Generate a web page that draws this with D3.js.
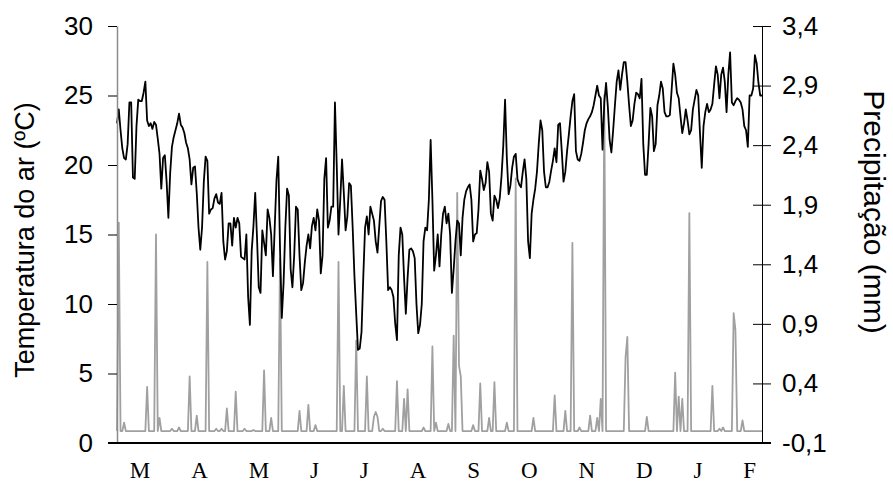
<!DOCTYPE html>
<html><head><meta charset="utf-8">
<script src="https://cdn.jsdelivr.net/npm/d3@7"></script>
<style>body{margin:0;background:#fff;} svg{display:block;}</style>
</head><body><svg id="c" width="893" height="489"></svg>
<script>
// ---- data ----
const months = ["M","A","M","J","J","A","S","O","N","D","J","F"];
const tempMar = [23.0,24.0,22.5,21.2,20.5,20.4,21.5,24.5,24.5,19.1,19.0,22.8,24.7,24.6,24.6,25.2,26.0,23.2,22.8,23.0,22.6,23.1,22.9,21.9,20.8,18.3,20.5,20.7,18.8,16.2,19.4];
const tempApr = [21.3,22.0,22.5,23.0,23.7,22.9,22.7,22.3,21.6,21.2,20.4,18.6,19.8,19.9,18.0,15.5,13.9,15.5,18.8,20.6,20.3,16.5,16.8,16.9,17.6,17.9,17.3,17.2,18.0,14.5];
const tempMay = [13.2,13.8,15.8,15.8,14.2,16.2,15.5,16.2,15.8,13.4,13.3,13.2,15.0,10.5,8.5,13.8,15.6,18.0,14.8,11.2,10.8,15.3,14.4,13.5,16.8,16.2,15.0,12.0,15.5,18.9,20.6];
const tempJun = [14.0,9.0,11.5,15.5,18.3,17.8,12.5,11.2,13.5,17.0,16.8,13.5,11.0,11.5,13.0,14.2,15.0,14.0,15.6,16.2,15.3,16.8,16.0,12.2,13.5,19.0,20.5,15.5,16.0,17.0];
const tempJul = [17.0,24.5,20.0,15.0,17.5,20.4,18.0,15.3,16.3,18.7,18.5,15.5,12.0,9.3,6.7,6.8,8.0,12.0,15.5,16.3,15.0,17.0,16.5,16.0,14.5,13.7,15.6,17.4,17.7,17.5,14.5];
const tempAug = [11.0,11.2,11.0,10.5,8.6,7.4,13.5,15.5,15.0,11.9,9.3,11.9,13.9,14.0,13.8,13.3,10.0,7.9,8.5,10.0,14.5,15.5,15.3,17.5,21.8,17.5,12.4,13.5,15.0,12.7,15.0];
const tempSep = [16.5,17.0,15.8,16.5,15.0,10.8,12.5,14.5,16.0,15.8,13.5,16.2,17.5,18.1,18.4,18.6,17.5,14.5,15.0,15.1,16.8,19.6,19.0,18.2,18.7,20.2,19.5,16.5,16.0,17.8];
const tempOct = [17.5,16.9,17.6,19.2,21.4,24.7,20.5,17.9,18.5,19.8,20.6,20.8,19.0,18.6,18.4,19.5,20.4,19.0,14.5,13.3,16.5,17.5,18.3,19.5,21.5,23.2,22.5,19.5,18.4,18.4,18.8];
const tempNov = [19.6,20.3,21.2,20.2,22.9,23.0,21.0,18.8,19.5,21.0,22.2,23.5,24.6,25.1,21.0,20.4,20.3,20.8,21.6,22.5,23.0,23.3,23.5,23.8,24.3,25.0,25.7,25.0,24.8,21.1];
const tempDec = [24.5,25.9,24.2,21.8,20.9,22.5,24.3,26.0,26.8,25.4,26.5,27.4,27.4,26.0,24.3,22.8,23.2,24.4,25.2,25.1,24.8,26.2,21.5,19.3,19.3,21.5,24.1,23.5,21.0,21.5,24.3];
const tempJan = [25.0,26.0,25.5,23.8,23.5,23.5,23.6,25.4,27.3,26.5,25.2,24.8,23.5,22.3,23.0,24.0,23.2,22.2,22.5,24.0,24.7,25.4,25.0,22.3,19.8,22.8,23.8,24.4,23.8,24.0,24.4];
const tempFeb = [25.8,27.1,26.5,24.8,26.5,27.0,26.0,23.8,26.5,28.1,24.5,24.3,24.6,24.8,24.7,24.5,24.0,22.8,22.5,21.3,25.0,25.0,25.5,27.9,27.3,25.9,25.0,25.0];

// rain days (day index from 1 March) and amounts (mm); all other days 0
const rainDay = [1,4,17,22,24,31,35,41,45,51,56,59,62,67,72,77,83,87,92,103,108,112,125,128,135,141,145,146,147,150,158,162,164,173,178,180,187,190,192,193,194,201,205,210,213,220,225,235,247,253,257,261,267,271,273,275,287,288,299,315,317,319,323,336,340,342,348,349,353];
const rainMm  = [1.75,0.07,0.37,1.65,0.11,0.02,0.03,0.46,0.13,1.42,0.02,0.02,0.19,0.33,0.02,0.01,0.51,0.11,1.45,0.17,0.22,0.05,1.42,0.38,0.76,0.46,0.12,0.16,0.12,0.02,0.42,0.27,0.35,0.03,0.71,0.07,0.06,0.80,2.0,0.55,0.46,0.05,0.40,0.11,0.41,0.07,2.12,0.11,0.30,0.17,1.58,0.03,0.13,0.11,0.27,2.82,0.62,0.79,0.12,0.49,0.29,0.27,1.83,0.38,0.02,0.03,0.99,0.85,0.09];

const tempTicks = [0,5,10,15,20,25,30];
const rainTicks = [-0.1,0.4,0.9,1.4,1.9,2.4,2.9,3.4];

// ---- build ----
const temp = [].concat(tempMar,tempApr,tempMay,tempJun,tempJul,tempAug,tempSep,tempOct,tempNov,tempDec,tempJan,tempFeb);
const nDays = temp.length;
const rain = new Array(nDays).fill(0);
rainDay.forEach((d,i)=>{ rain[d] = rainMm[i]; });

const M = {l:117, r:762, t:26, b:443};
const FONT = "'Liberation Sans', Arial, sans-serif";
const SERIF = "'Liberation Serif','Times New Roman',serif";
const x = d3.scaleLinear().domain([0,nDays-1]).range([M.l,M.r]);
const yT = d3.scaleLinear().domain([0,30]).range([M.b,M.t]);
const yP = d3.scaleLinear().domain([-0.1,3.4]).range([M.b,M.t]);
const svg = d3.select("#c");

svg.append("path").datum(rain)
  .attr("fill","none").attr("stroke","#a0a0a0").attr("stroke-width",1.8).attr("stroke-linejoin","round")
  .attr("d", d3.line().x((d,i)=>x(i)).y(d=>yP(d)));

svg.append("path").datum(temp)
  .attr("fill","none").attr("stroke","#000").attr("stroke-width",1.8).attr("stroke-linejoin","round")
  .attr("d", d3.line().x((d,i)=>x(i)).y(d=>yT(d)));

// left axis
const gL = svg.append("g").attr("transform",`translate(${M.l},0)`)
  .call(d3.axisLeft(yT).tickValues(tempTicks).tickSize(9).tickSizeOuter(0).tickPadding(15).tickFormat(d3.format("d")));
gL.select(".domain").attr("stroke","#8c8c8c").attr("stroke-width",1.5);
gL.selectAll(".tick line").attr("stroke","#000");
gL.selectAll("text").attr("font-family",FONT).attr("font-size",26).attr("fill","#000");

// right axis
const loc = d3.formatLocale({decimal:",",thousands:".",grouping:[3],currency:["",""],minus:"-"});
const gR = svg.append("g").attr("transform",`translate(${M.r},0)`)
  .call(d3.axisRight(yP).tickValues(rainTicks).tickSize(9).tickSizeOuter(0).tickPadding(11).tickFormat(loc.format(".1f")));
gR.select(".domain").attr("stroke","#000");
gR.selectAll(".tick line").attr("x1",-9).attr("stroke","#000");
gR.selectAll("text").attr("font-family",FONT).attr("font-size",26).attr("fill","#000");

// x axis with months (labels laid out like a spaced text line)
const xm = d3.scalePoint().domain(d3.range(months.length)).range([140,750]);
const gB = svg.append("g").attr("transform",`translate(0,${M.b})`)
  .call(d3.axisBottom(xm).tickSize(0).tickPadding(19).tickFormat(i=>months[i]));
gB.select(".domain").remove();
gB.selectAll("text").attr("font-family",SERIF).attr("font-size",23).attr("fill","#000");
const tks = gB.selectAll(".tick");
const widths = tks.select("text").nodes().map(n=>n.getComputedTextLength());
const gap = 40.9;
let cx = xm(0);
tks.each(function(d,i){
  if (i>0) cx += (widths[i-1]+widths[i])/2 + gap;
  d3.select(this).attr("transform",`translate(${cx},0)`);
});
svg.append("line").attr("x1",108).attr("x2",771).attr("y1",M.b).attr("y2",M.b)
  .attr("stroke","#000").attr("stroke-width",2);

// titles
svg.append("text").attr("transform","translate(34,240) rotate(-90)")
  .attr("text-anchor","middle").attr("font-family",FONT).attr("font-size",27).text("Temperatura do ar (ºC)");
svg.append("text").attr("transform","translate(864,212) rotate(90)")
  .attr("text-anchor","middle").attr("font-family",FONT).attr("font-size",30).text("Precipitação (mm)");
</script></body></html>
